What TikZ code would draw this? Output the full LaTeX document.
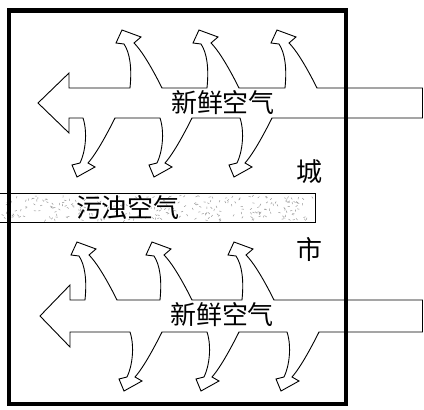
\documentclass[tikz,border=0pt]{standalone}
\usepackage{fontspec}
\newfontfamily\cjk{Noto Sans CJK SC}
\begin{document}
\begin{tikzpicture}[x=1pt,y=-1pt,
  arrowline/.style={draw=black,fill=white,line width=0.9pt,line join=miter},
  lbl/.style={inner sep=0pt,font=\cjk\fontsize{26}{26}\selectfont},
  upb/.style 2 args={insert path={-- (#1,#2) .. controls ({#1+2},{#2-20}) and ({#1},{#2-35}) .. ({#1-6},{#2-44}) -- ({#1-14},{#2-45}) -- ({#1-8},{#2-58}) -- ({#1+11},{#2-51}) -- ({#1+4},{#2-45}) .. controls ({#1+14},{#2-35}) and ({#1+26},{#2-12}) .. ({#1+32},{#2})}},
  lob/.style 2 args={insert path={-- ({#1+32},{#2}) .. controls ({#1+26},{#2+12}) and ({#1+14},{#2+35}) .. ({#1+5},{#2+45}) -- ({#1+12},{#2+49}) -- ({#1-6},{#2+59}) -- ({#1-11},{#2+47}) -- ({#1-3},{#2+45}) .. controls ({#1+2},{#2+35}) and ({#1+5},{#2+15}) .. (#1,#2)}}
]
\useasboundingbox (0,0) rectangle (424,410);
\fill[white] (0,0) rectangle (424,410);
% top fresh-air arrow
\path[arrowline] (38,103) -- (69,73) -- (69,88) [upb={130}{88}] [upb={207}{88}] [upb={285}{88}] -- (422.5,88) -- (422.5,118) [lob={240}{118}] [lob={160}{118}] [lob={83}{118}] -- (69,118) -- (69,133) -- cycle;
% bottom fresh-air arrow
\path[arrowline] (40,316) -- (70,285) -- (70,300) [upb={85}{300}] [upb={160}{300}] [upb={242}{300}] -- (422.5,300) -- (422.5,332) [lob={287}{332}] [lob={207}{332}] [lob={130}{332}] -- (70,332) -- (70,347) -- cycle;
% polluted air bar
\fill[white] (-1,193) rectangle (315,222);
\pgfmathsetseed{17}
\foreach \i in {1,...,260}{
  \pgfmathsetmacro\xx{rnd*311+1}
  \pgfmathsetmacro\yy{rnd*25+195}
  \pgfmathsetmacro\aa{rnd*180}
  \draw[gray!80,line width=0.5pt] (\xx,\yy) -- ++(\aa:2.2);
}
\draw[line width=0.9pt] (-1,193) rectangle (315,222);
\node[lbl] (pol) at (128,208) {污浊空气};
\node[lbl] (fresh1) at (223,103) {新鲜空气};
\node[lbl] (fresh2) at (222,315) {新鲜空气};
\node[lbl] (cheng) at (309,172) {城};
\node[lbl] (shi) at (309,249) {市};
% city boundary
\draw[line width=4.5pt] (9,10.5) rectangle (346,404);
\end{tikzpicture}
\end{document}
